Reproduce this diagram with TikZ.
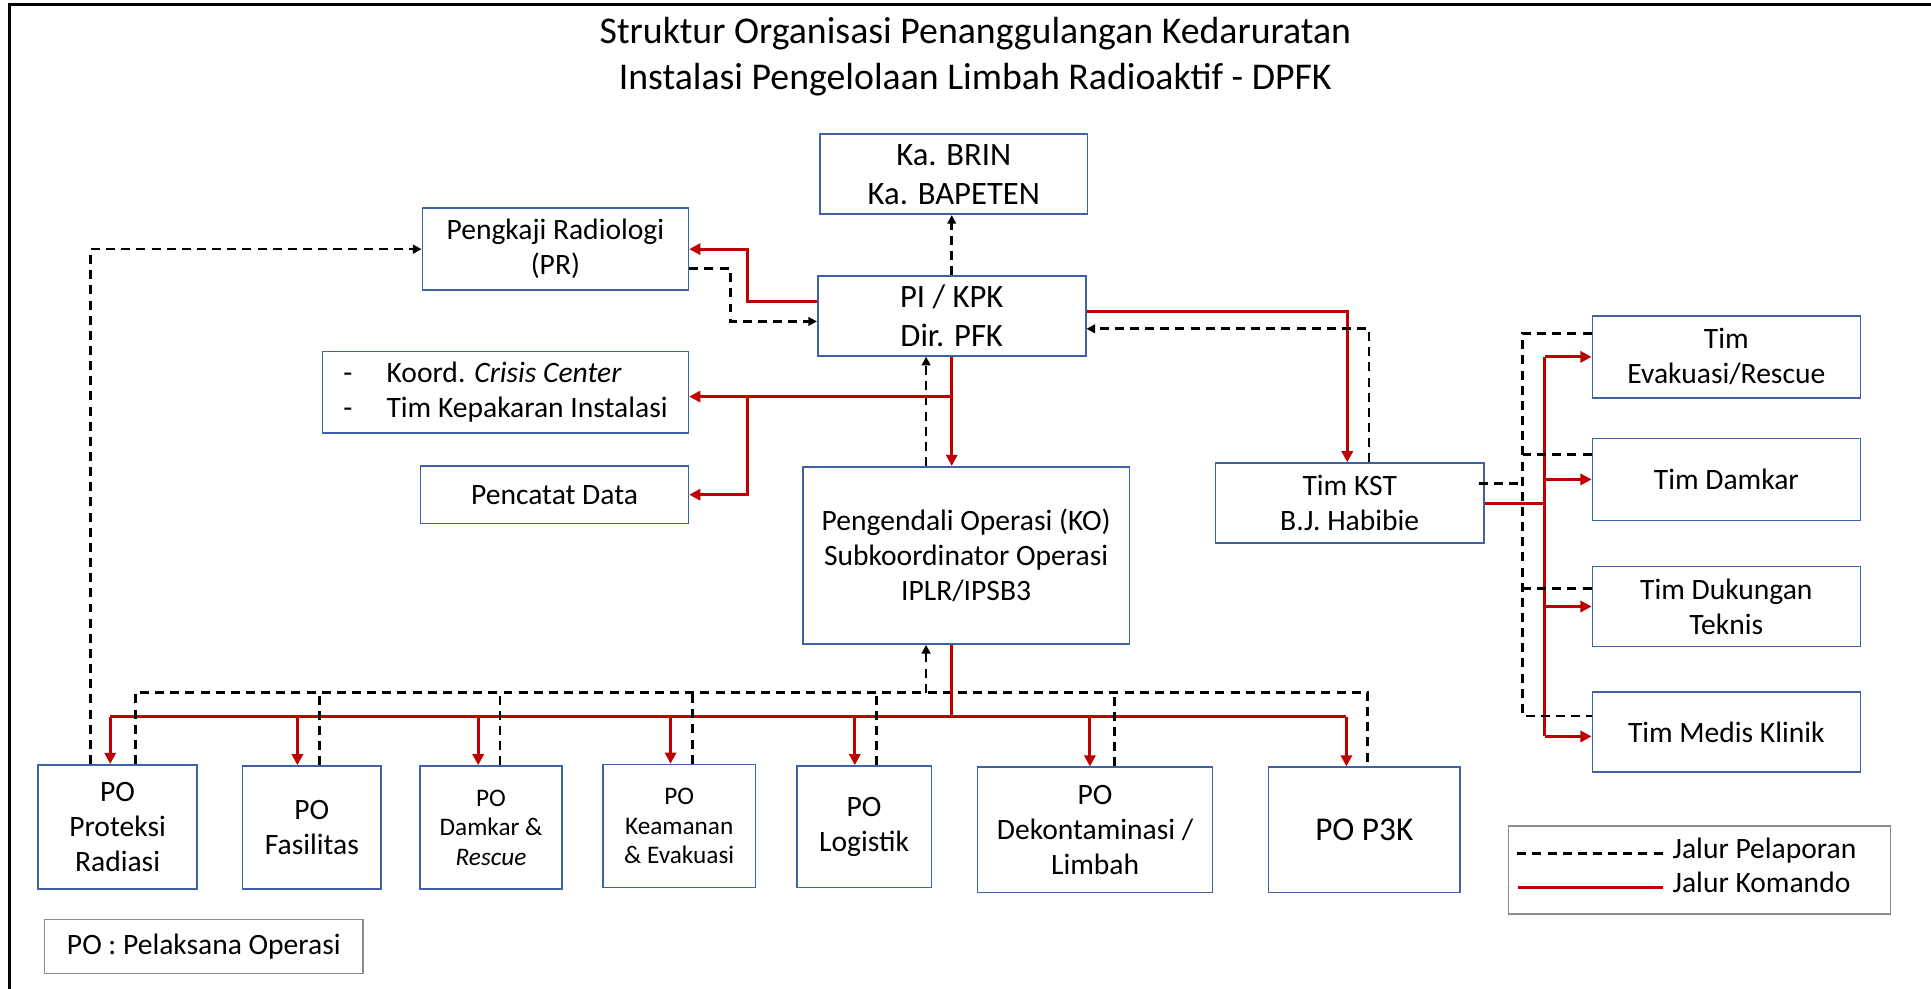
\documentclass[tikz,border=0pt]{standalone}
\usepackage{fontspec}
\setmainfont{Carlito}
\usetikzlibrary{arrows.meta}
\definecolor{boxblue}{HTML}{3F62A5}
\definecolor{cmdred}{HTML}{C00000}
\definecolor{notegray}{HTML}{8C8C8C}
\newcommand\fbody{\fontsize{24}{28.5}\selectfont}
\newcommand\fbig{\fontsize{26.5}{31.7}\selectfont}
\newcommand\fsmall{\fontsize{20.5}{24}\selectfont}
\newcommand\ftitle{\fontsize{30.7}{37.8}\selectfont}
\newcommand\flarge{\fontsize{27}{32}\selectfont}

\begin{document}
\begin{tikzpicture}[x=1pt,y=-1pt,
  box/.style={draw=boxblue, line width=1.3pt, align=center, inner sep=1pt, font=\fbody},
  notebox/.style={draw=notegray, line width=1.3pt, align=center, inner sep=1pt, font=\fbody},
  titletext/.style={anchor=base, inner sep=0pt, font=\ftitle},
  legtext/.style={anchor=base west, inner sep=0pt, font=\fbody},
  cmdline/.style={draw=cmdred, line width=2.4pt},
  cmd/.style={cmdline, -{Triangle[length=9pt,width=9pt]}},
  repline/.style={draw=black, line width=2.2pt, dash pattern=on 7.3pt off 5pt},
  rep/.style={repline, -{Triangle[length=7pt,width=7pt]}}]

\useasboundingbox (0,0) rectangle (1568,803);

% outer frame (left and top edges)
\draw[line width=2.5pt] (8,812) -- (8,4) -- (1576,4);

% heading
\node[titletext] (t1) at (792,35.2) {Struktur Organisasi Penanggulangan Kedaruratan};
\node[titletext] (t2) at (792,73) {Instalasi Pengelolaan Limbah Radioaktif - DPFK};

% upper boxes
\node[box, font=\fbig, minimum width=217pt, minimum height=65pt] (brin) at (774.5,141.5) {Ka. BRIN\\Ka. BAPETEN};
\node[box, minimum width=216pt, minimum height=66.5pt] (pr) at (451,202.3) {Pengkaji Radiologi\\(PR)};
\node[box, font=\fbig, minimum width=217.6pt, minimum height=65pt] (pi) at (772.8,256.5) {PI / KPK\\Dir. PFK};
\node[box, align=left, minimum width=297pt, minimum height=66pt] (koord) at (410.5,318.5)
  {\makebox[35pt][l]{-}Koord. \textit{Crisis Center}\\\makebox[35pt][l]{-}Tim Kepakaran Instalasi};
\node[box, minimum width=217.4pt, minimum height=46.6pt] (catat) at (450.3,401.7) {Pencatat Data};
\node[box, minimum width=265pt, minimum height=144pt] (ko) at (784.5,451) {Pengendali Operasi (KO)\\Subkoordinator Operasi\\IPLR/IPSB3};
\node[box, minimum width=218pt, minimum height=65pt] (kst) at (1096,408.5) {Tim KST\\B.J. Habibie};

% teams on the right
\node[box, minimum width=217.6pt, minimum height=66.4pt] (evak) at (1401.8,289.8) {Tim\\Evakuasi/Rescue};
\node[box, minimum width=217.6pt, minimum height=66.5pt] (tdamkar) at (1401.8,389.3) {Tim Damkar};
\node[box, minimum width=217.6pt, minimum height=65pt] (dukung) at (1401.8,492.5) {Tim Dukungan\\Teknis};
\node[box, minimum width=217.6pt, minimum height=65pt] (medis) at (1401.8,594.5) {Tim Medis Klinik};

% operation units
\node[box, minimum width=129pt, minimum height=101pt] (po1) at (95.5,671.5) {PO\\Proteksi\\Radiasi};
\node[box, minimum width=112.5pt, minimum height=100pt] (po2) at (253.25,672) {PO\\Fasilitas};
\node[box, font=\fsmall, minimum width=115.4pt, minimum height=100pt] (po3) at (398.7,672) {PO\\Damkar \&\\\textit{Rescue}};
\node[box, font=\fsmall, minimum width=124pt, minimum height=100pt] (po4) at (551.5,670.75) {PO\\Keamanan\\\& Evakuasi};
\node[box, minimum width=109.3pt, minimum height=98.8pt] (po5) at (701.65,671.4) {PO\\Logistik};
\node[box, minimum width=190.9pt, minimum height=101.6pt] (po6) at (889.25,673.8) {PO\\Dekontaminasi /\\Limbah};
\node[box, font=\flarge, minimum width=155.6pt, minimum height=101.6pt] (po7) at (1107.8,673.8) {PO P3K};

% legend and abbreviation note
\node[notebox, minimum width=310pt, minimum height=71.5pt] (legend) at (1380,706.5) {};
\node[legtext] (lgrep) at (1358,697) {Jalur Pelaporan};
\node[legtext] (lgcmd) at (1358,725) {Jalur Komando};
\draw[repline] ([xshift=-126pt,yshift=4pt]lgrep.base west) -- ([xshift=-8pt,yshift=4pt]lgrep.base west);
\draw[cmdline] ([xshift=-125pt,yshift=4pt]lgcmd.base west) -- ([xshift=-8pt,yshift=4pt]lgcmd.base west);
\node[notebox, minimum width=259pt, minimum height=44pt] (note) at (165.5,768.5) {PO : Pelaksana Operasi};

% helper levels and columns
\coordinate (rb) at (0,582);
\coordinate (db) at (0,562.5);
\coordinate (kov) at (752,0);
\coordinate (xa) at (73.7,0);
\coordinate (xb) at (606.6,0);
\coordinate (xc) at (593,0);
\coordinate (xk) at (1111.7,0);
\coordinate (kx) at (1254.5,0);
\coordinate (kd) at (1236.4,0);

% command bus to the operation units
\foreach \n/\rx/\dx in {po1/89.5/110, po2/241.5/259.2, po3/388.3/406, po4/544.5/562.6,
                        po5/694.1/711.8, po6/885/905.2, po7/1093.3/1110.6} {
  \coordinate (r-\n) at (\rx,582);
  \coordinate (d-\n) at (\dx,562.5);
}
\draw[cmdline] (r-po1) -- (r-po7);
\foreach \n in {po1,po2,po3,po4,po5,po6,po7}
  \draw[cmd] (r-\n) -- (r-\n |- \n.north);

% reporting bus from the operation units
\draw[repline] (d-po1 |- po1.north) -- (d-po1) -- (d-po7) -- (d-po7 |- po7.north);
\foreach \n in {po2,po3,po4,po5,po6}
  \draw[repline] (d-\n |- \n.north) -- (d-\n);

% KO links
\draw[cmdline] (pi.south |- ko.south) -- (pi.south |- rb);
\draw[rep] (kov |- db) -- (kov |- ko.south);
\draw[rep] (kov |- ko.north) -- (kov |- pi.south);
\draw[cmd] (pi.south) -- (pi.south |- ko.north);
\draw[rep] (pi.north) -- (pi.north |- brin.south);

% staff units of PI / KPK
\coordinate (kk) at ([yshift=-3.5pt]koord.east);
\draw[cmd] (pi.south |- kk) -- (kk);
\draw[cmd] (xb |- kk) |- (catat.east);
\draw[cmd] ([yshift=11.5pt]pi.west) -| (xb |- pr.east) -- (pr.east);
\coordinate (dpi) at ([yshift=-4.5pt]pi.west);
\draw[rep] ([yshift=-16pt]pr.east) -| (xc |- dpi) -- (dpi);
\draw[rep] (xa |- po1.north) |- (pr.west);

% Tim KST
\draw[cmd] ([yshift=3.5pt]pi.east) -| ([xshift=-2pt]kst.north);
\coordinate (dpe) at ([yshift=-10.5pt]pi.east);
\draw[rep] (xk |- kst.north) |- (dpe);

% teams under Tim KST
\coordinate (mr) at ([yshift=-3.5pt]medis.west);
\draw[cmdline] (kst.east) -- (kx |- kst.east);
\draw[cmdline] (kx |- evak.west) -- (kx |- mr);
\draw[cmd] (kx |- evak.west) -- (evak.west);
\draw[cmd] (kx |- tdamkar.west) -- (tdamkar.west);
\draw[cmd] (kx |- dukung.west) -- (dukung.west);
\draw[cmd] (kx |- mr) -- (mr);

\coordinate (de) at ([yshift=19pt]evak.west);
\coordinate (dm) at ([yshift=13pt]medis.west);
\coordinate (dd) at ([yshift=20.3pt]tdamkar.west);
\coordinate (du) at ([yshift=14.5pt]dukung.west);
\coordinate (dk) at ([xshift=-5pt,yshift=15.7pt]kst.east);
\draw[repline] (de) -| (kd |- dm) -- (dm);
\draw[repline] (dd) -- (kd |- dd);
\draw[repline] (du) -- (kd |- du);
\draw[repline] (dk) -- (kd |- dk);

\end{tikzpicture}
\end{document}
